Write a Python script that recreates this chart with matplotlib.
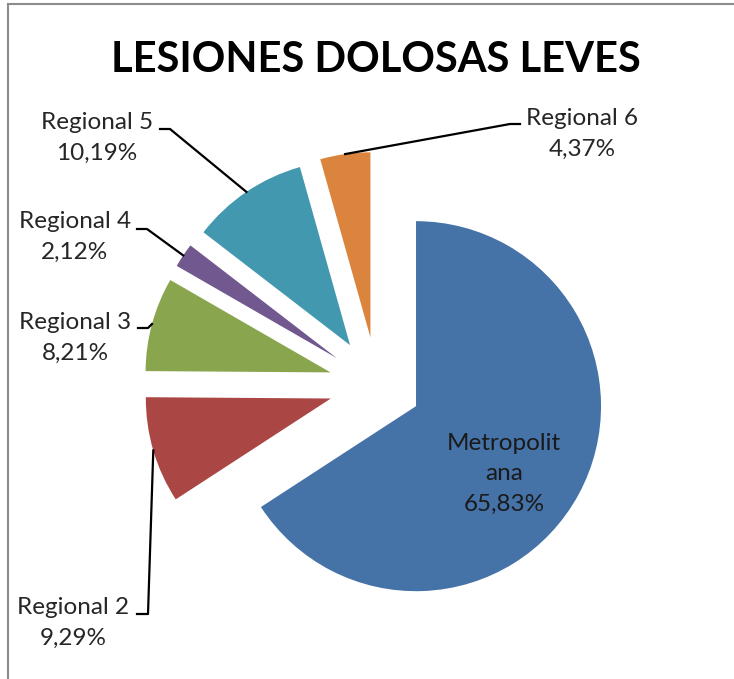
import matplotlib
matplotlib.use("Agg")
import matplotlib.pyplot as plt
import numpy as np
from matplotlib.lines import Line2D

# data
regions = ["Metropolit\nana", "Regional 2", "Regional 3", "Regional 4",
           "Regional 5", "Regional 6"]
shares = [65.83, 9.29, 8.21, 2.12, 10.19, 4.37]
colors = ["#4572A7", "#AA4643", "#89A54E", "#71588F", "#4198AF", "#DB843D"]
explode_frac = [0.24, 0.26, 0.26, 0.26, 0.26, 0.26]

W, H = 734, 679
R = 185
plt.rcParams['font.family'] = ['Lato', 'DejaVu Sans']


def py(y):
    # image row -> data y
    return H - y


fig = plt.figure(figsize=(W / 100, H / 100), dpi=100)
ax = fig.add_axes([0, 0, 1, 1])

# matplotlib's explode is in data units, so scale by the radius
wedges, _ = ax.pie(shares, colors=colors, explode=[e * R for e in explode_frac],
                   startangle=90, counterclock=False, radius=R,
                   center=(377, py(385)), wedgeprops=dict(linewidth=0),
                   frame=True)
ax.set_axis_off()
ax.set_xlim(0, W)
ax.set_ylim(0, H)
ax.set_aspect('equal')

# label block centre, elbow and stub end (image pixels)
label_pos = {
    1: ((73, 623), (148, 614), (137, 614)),
    2: ((75, 338), (148, 328), (138, 328)),
    3: ((75, 237), (147, 229), (137, 229)),
    4: ((97, 138), (170, 129), (160, 129)),
    5: ((582, 134), (510, 124), (520, 124)),
}

txt_color = "#262626"
for i, (tpos, elbow, stub) in label_pos.items():
    w = wedges[i]
    mid = np.deg2rad((w.theta1 + w.theta2) / 2)
    cx, cy = w.center
    ex = cx + w.r * np.cos(mid)
    ey = cy + w.r * np.sin(mid)
    ax.add_line(Line2D([ex, elbow[0], stub[0]], [ey, py(elbow[1]), py(stub[1])],
                       color="black", lw=1.6))
    pct = ("%.2f%%" % shares[i]).replace(".", ",")
    ax.text(tpos[0], py(tpos[1]), regions[i] + "\n" + pct, ha="center",
            va="center", fontsize=17.5, color=txt_color, linespacing=1.55)

pct0 = ("%.2f%%" % shares[0]).replace(".", ",")
ax.text(504, py(474), regions[0] + "\n" + pct0, ha="center", va="center",
        fontsize=17.5, color="#1a1a1a", linespacing=1.55)

ax.text(376, py(60), "LESIONES DOLOSAS LEVES", ha="center", va="center",
        fontsize=30, fontweight="bold", color="black")

# chart frame
fig.add_artist(Line2D([8 / W, 1], [1 - 4 / H, 1 - 4 / H], color="#8c8c8c", lw=1.5))
fig.add_artist(Line2D([8 / W, 8 / W], [0, 1 - 4 / H], color="#8c8c8c", lw=1.5))

fig.savefig("out.png", dpi=100)
